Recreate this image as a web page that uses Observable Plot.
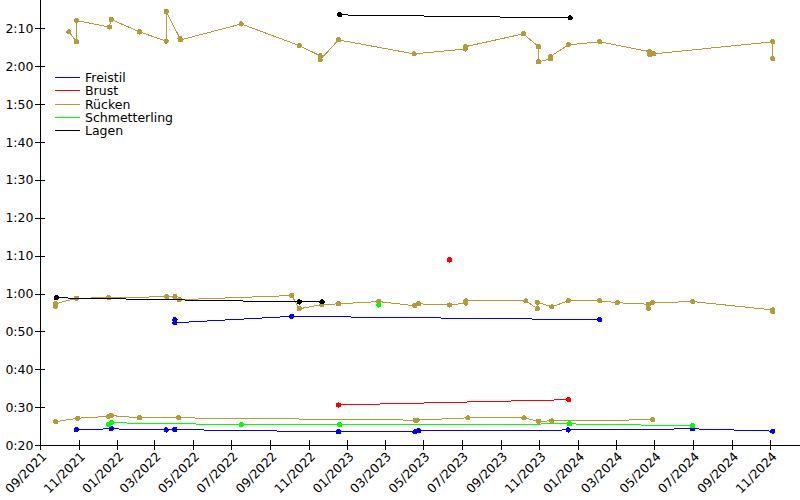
<!DOCTYPE html>
<html>
<head>
<meta charset="utf-8">
<script src="https://cdn.jsdelivr.net/npm/d3@7"></script>
<script src="https://cdn.jsdelivr.net/npm/@observablehq/plot@0.6"></script>
<style>
  html, body { margin: 0; padding: 0; background: #fff; }
  #wrap { position: relative; width: 800px; height: 500px; font-family: "DejaVu Sans", sans-serif; }
  #wrap svg path, #wrap svg line, #wrap svg circle { shape-rendering: crispEdges; }
  #legend { position: absolute; left: 55px; top: 71px; font-size: 12.5px; color: #000; }
  #legend .row { display: flex; align-items: center; height: 13.3px; white-space: nowrap; }
  #legend .sw { width: 25px; height: 0; border-top: 1px solid; margin-right: 5px; }
  #legend .tx { display: inline-block; height: 13.3px; line-height: 13.3px; overflow: visible; }
</style>
</head>
<body>
<div id="wrap"></div>
<script>
// Categories and colours
const strokes = ["Freistil", "Brust", "Rücken", "Schmetterling", "Lagen"];
const colors = ["#0000ff", "#ff0000", "#b59a3a", "#00ff00", "#000000"];

// Tick labels
const xTickLabels = ["09/2021","11/2021","01/2022","03/2022","05/2022","07/2022","09/2022","11/2022",
  "01/2023","03/2023","05/2023","07/2023","09/2023","11/2023","01/2024","03/2024","05/2024","07/2024",
  "09/2024","11/2024"];
const yTickLabels = ["0:20","0:30","0:40","0:50","1:00","1:10","1:20","1:30","1:40","1:50","2:00","2:10"];
const xDomain = ["2021-09-01", "2024-12-18"];
const yDomain = [20, 137.5];

// Series values: [date, time in seconds]
const freistil50 = [["2021-10-28",24.2],["2021-12-22",24.4],["2022-03-19",24.1],["2022-04-02",24.2],
  ["2022-12-17",23.6],["2023-04-17",23.6],["2023-04-23",23.9],["2023-12-16",24.1],["2024-06-30",24.4],
  ["2024-11-04",23.8]];
const freistil100 = [["2022-04-02",53.2],["2022-04-02",52.4],["2022-10-04",54.1],["2024-02-04",53.2]];
const brust50 = [["2022-12-17",30.7],["2023-12-17",32.1]];
const brust100 = [["2023-06-11",69.0]];
const ruecken50 = [["2021-09-25",26.3],["2021-10-30",27.2],["2021-12-18",27.7],["2021-12-22",27.9],
  ["2022-02-05",27.3],["2022-04-08",27.3],["2023-04-18",26.7],["2023-04-20",26.7],["2023-07-10",27.3],
  ["2023-10-07",27.3],["2023-10-30",26.4],["2023-11-20",26.5],["2024-04-28",26.8]];
const ruecken100 = [["2021-09-25",56.8],["2021-09-25",57.4],["2021-10-28",58.9],["2021-12-18",59.0],
  ["2022-03-20",59.3],["2022-04-02",59.3],["2022-04-09",58.5],["2022-10-04",59.6],["2022-10-16",56.1],
  ["2022-11-21",57.2],["2022-12-17",57.4],["2023-02-19",58.0],["2023-04-17",56.9],["2023-04-23",57.4],
  ["2023-06-11",57.1],["2023-07-07",57.6],["2023-07-07",58.2],["2023-10-10",58.2],["2023-10-28",56.1],
  ["2023-10-28",57.8],["2023-11-20",56.6],["2023-12-16",58.2],["2024-02-04",58.2],["2024-03-03",57.7],
  ["2024-04-21",57.3],["2024-04-21",56.2],["2024-04-27",57.7],["2024-06-30",58.0],["2024-11-04",55.8],
  ["2024-11-04",55.3]];
const ruecken200 = [["2021-10-16",129.2],["2021-10-28",126.6],["2021-10-28",132.2],["2021-12-19",130.5],
  ["2021-12-22",132.5],["2022-02-05",129.2],["2022-03-19",126.8],["2022-03-19",134.6],["2022-04-10",127.5],
  ["2022-04-11",127.1],["2022-07-16",131.3],["2022-10-16",125.6],["2022-11-18",122.9],["2022-11-18",121.8],
  ["2022-12-17",127.1],["2023-04-16",123.4],["2023-07-06",124.7],["2023-07-06",125.3],["2023-10-06",128.7],
  ["2023-10-30",125.3],["2023-10-30",121.3],["2023-11-18",122.1],["2023-11-18",122.7],["2023-12-16",125.8],
  ["2024-02-04",126.6],["2024-04-23",124.0],["2024-04-23",123.2],["2024-04-29",123.4],["2024-11-04",126.6],
  ["2024-11-04",122.1]];
const schmetterling50 = [["2021-12-18",25.5],["2021-12-22",26.0],["2022-07-16",25.5],["2022-12-19",25.5],
  ["2023-12-18",25.7],["2024-06-30",25.2]];
const schmetterling100 = [["2023-02-19",57.1]];
const lagen100 = [["2021-09-26",59.0],["2022-10-16",57.9],["2022-11-21",57.9]];
const lagen200 = [["2022-12-19",133.7],["2023-12-19",132.9]];

// Build a table for Plot
const seriesList = [
  ["Freistil 50", "Freistil", freistil50], ["Freistil 100", "Freistil", freistil100],
  ["Brust 50", "Brust", brust50], ["Brust 100", "Brust", brust100],
  ["Rücken 50", "Rücken", ruecken50], ["Rücken 100", "Rücken", ruecken100], ["Rücken 200", "Rücken", ruecken200],
  ["Schmetterling 50", "Schmetterling", schmetterling50], ["Schmetterling 100", "Schmetterling", schmetterling100],
  ["Lagen 100", "Lagen", lagen100], ["Lagen 200", "Lagen", lagen200]
];
const table = seriesList.flatMap(([series, stroke, pts]) =>
  pts.map(([d, t]) => ({series, stroke, date: new Date(d + "T00:00:00Z"), time: t})));

const parseMY = d3.utcParse("%m/%Y");
const xTicks = xTickLabels.map(parseMY);
const yTicks = yTickLabels.map(s => { const [m, ss] = s.split(":"); return +m * 60 + +ss; });
const fmtTime = s => `${Math.floor(s / 60)}:${String(Math.round(s % 60)).padStart(2, "0")}`;
const fmtMY = d3.utcFormat("%m/%Y");
const xd = xDomain.map(d => new Date(d + "T00:00:00Z"));

const marks = [
  Plot.ruleX([xd[0]], {stroke: "#000"}),
  Plot.ruleY([yDomain[0]], {stroke: "#000"}),
  // x ticks crossing the axis line
  Plot.axisX({ticks: xTicks, tickFormat: () => "", tickSize: 10, dy: -5, label: null, stroke: "#000"}),
  // x tick labels, rotated
  Plot.axisX({ticks: xTicks, tickFormat: fmtMY, tickRotate: -45, tickSize: 0, tickPadding: 9, dx: 4, label: null}),
  Plot.axisY({ticks: yTicks, tickFormat: fmtTime, tickSize: 10, dx: 5, tickPadding: 2, label: null, stroke: "#000"})
];
for (const s of strokes) {
  const sub = table.filter(d => d.stroke === s);
  marks.push(Plot.line(sub, {x: "date", y: "time", z: "series", stroke: "stroke", strokeWidth: 1}));
  marks.push(Plot.dot(sub, {x: "date", y: "time", fill: "stroke", r: 2.6, stroke: null}));
}

const chart = Plot.plot({
  width: 800, height: 500,
  marginLeft: 40, marginRight: 0, marginTop: 0, marginBottom: 55,
  style: {fontFamily: "DejaVu Sans, sans-serif", fontSize: "12.5px", background: "#fff", color: "#000", overflow: "visible"},
  x: {type: "utc", domain: xd},
  y: {domain: yDomain},
  color: {domain: strokes, range: colors},
  marks
});
const wrap = document.getElementById("wrap");
wrap.appendChild(chart);

const legend = document.createElement("div");
legend.id = "legend";
strokes.forEach((s, i) => {
  const row = document.createElement("div");
  row.className = "row";
  const sw = document.createElement("span");
  sw.className = "sw";
  sw.style.borderTopColor = colors[i];
  const tx = document.createElement("span");
  tx.className = "tx";
  tx.textContent = s;
  row.appendChild(sw); row.appendChild(tx);
  legend.appendChild(row);
});
wrap.appendChild(legend);
</script>
</body>
</html>
